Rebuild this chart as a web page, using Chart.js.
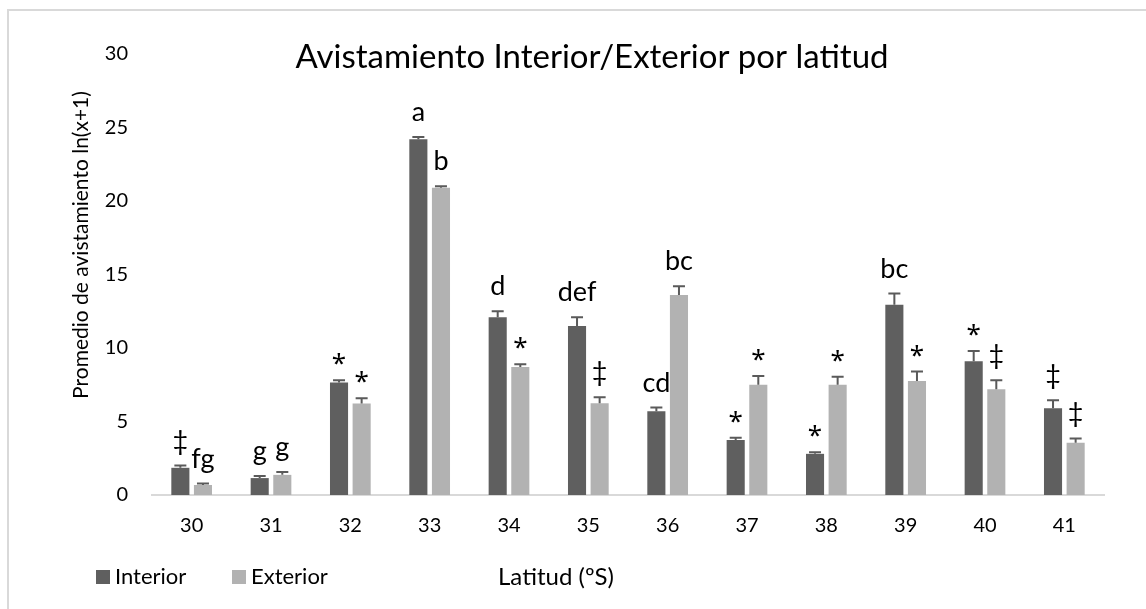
<!DOCTYPE html>
<html>
<head>
<meta charset="utf-8">
<script src="https://cdn.jsdelivr.net/npm/chart.js@4"></script>
<style>
  body { margin: 0; background: #fff; }
  .wrap { position: relative; width: 1146px; height: 609px; overflow: hidden; }
  .frame { position: absolute; left: 7px; top: 9px; width: 1200px; height: 700px; border: 2px solid #d9d9d9; }
  canvas { position: absolute; left: 0; top: 0; }
</style>
</head>
<body>
<div class="wrap">
  <div class="frame"></div>
  <canvas id="chart" width="1146" height="609"></canvas>
</div>
<script>
const categories = ['30', '31', '32', '33', '34', '35', '36', '37', '38', '39', '40', '41'];
const interior = [1.85, 1.15, 7.65, 24.2, 12.1, 11.5, 5.7, 3.75, 2.8, 12.95, 9.1, 5.9];
const exterior = [0.68, 1.37, 6.23, 20.9, 8.7, 6.25, 13.6, 7.5, 7.5, 7.75, 7.2, 3.55];
const interiorErr = [0.15, 0.15, 0.15, 0.15, 0.4, 0.6, 0.25, 0.15, 0.1, 0.75, 0.7, 0.55];
const exteriorErr = [0.1, 0.2, 0.35, 0.1, 0.2, 0.4, 0.6, 0.6, 0.55, 0.65, 0.6, 0.3];
const interiorMarks = ['‡', 'g', '*', 'a', 'd', 'def', 'cd', '*', '*', 'bc', '*', '‡'];
const exteriorMarks = ['fg', 'g', '*', 'b', '*', '‡', 'bc', '*', '*', '*', '‡', '‡'];
const yTicks = [0, 5, 10, 15, 20, 25, 30];

const FONT = 'Lato';

const overlay = {
  id: 'overlay',
  afterDatasetsDraw(chart) {
    const ctx = chart.ctx;
    const y = chart.scales.y;
    ctx.save();
    chart.data.datasets.forEach((ds, i) => {
      const meta = chart.getDatasetMeta(i);
      meta.data.forEach((bar, j) => {
        const top = y.getPixelForValue(ds.data[j] + ds.errors[j]);
        ctx.strokeStyle = '#5a5a5a';
        ctx.lineWidth = 2;
        ctx.beginPath();
        ctx.moveTo(bar.x, bar.y);
        ctx.lineTo(bar.x, top);
        ctx.moveTo(bar.x - 6, top);
        ctx.lineTo(bar.x + 6, top);
        ctx.stroke();

        const mark = ds.marks[j];
        ctx.fillStyle = '#000';
        ctx.font = mark === '*' ? '26px "Noto Sans"' : '27px ' + FONT;
        ctx.textAlign = 'center';
        ctx.textBaseline = 'alphabetic';
        ctx.fillText(mark, bar.x, mark === '*' ? top - 8 : top - 16);
      });
    });
    ctx.restore();
  },
  afterDraw(chart) {
    const ctx = chart.ctx;
    ctx.save();
    ctx.fillStyle = '#000';

    ctx.font = '33px ' + FONT;
    ctx.textAlign = 'center';
    ctx.textBaseline = 'middle';
    ctx.fillText('Avistamiento Interior/Exterior por latitud', 592, 57);

    ctx.font = '24px ' + FONT;
    ctx.fillText('Latitud (ºS)', 556, 577);

    ctx.save();
    ctx.font = '21px ' + FONT;
    ctx.translate(81, 245);
    ctx.rotate(-Math.PI / 2);
    ctx.fillText('Promedio de avistamiento ln(x+1)', 0, 0);
    ctx.restore();

    // legend
    ctx.font = '22px ' + FONT;
    let lx = 96;
    chart.data.datasets.forEach(ds => {
      ctx.fillStyle = ds.backgroundColor;
      ctx.fillRect(lx, 570, 14, 14);
      ctx.fillStyle = '#000';
      ctx.textAlign = 'left';
      ctx.fillText(ds.label, lx + 19, 577);
      lx += 136;
    });
    ctx.restore();
  }
};

const ctx = document.getElementById('chart').getContext('2d');
const chart = new Chart(ctx, {
  type: 'bar',
  data: {
    labels: categories,
    datasets: [{
      label: 'Interior',
      data: interior,
      errors: interiorErr,
      marks: interiorMarks,
      backgroundColor: '#5f5f5f'
    }, {
      label: 'Exterior',
      data: exterior,
      errors: exteriorErr,
      marks: exteriorMarks,
      backgroundColor: '#b2b2b2'
    }]
  },
  options: {
    responsive: false,
    animation: false,
    categoryPercentage: 0.57,
    barPercentage: 0.8,
    layout: { padding: { left: 0, right: 42, top: 54, bottom: 0 } },
    plugins: {
      legend: { display: false },
      title: { display: false },
      tooltip: { enabled: false }
    },
    scales: {
      x: {
        grid: { display: false, drawTicks: false },
        border: { display: true, color: '#d9d9d9', width: 2 },
        ticks: { color: '#000', font: { family: FONT, size: 20 }, padding: 19, maxRotation: 0 },
        afterFit(scale) { scale.height = 114; }
      },
      y: {
        min: 0,
        max: 30,
        grid: { display: false, drawTicks: false },
        border: { display: false },
        afterBuildTicks(scale) { scale.ticks = yTicks.map(v => ({ value: v })); },
        ticks: { color: '#000', font: { family: FONT, size: 20 }, padding: 24 },
        afterFit(scale) { scale.width = 152; }
      }
    }
  },
  plugins: [overlay]
});
</script>
</body>
</html>
